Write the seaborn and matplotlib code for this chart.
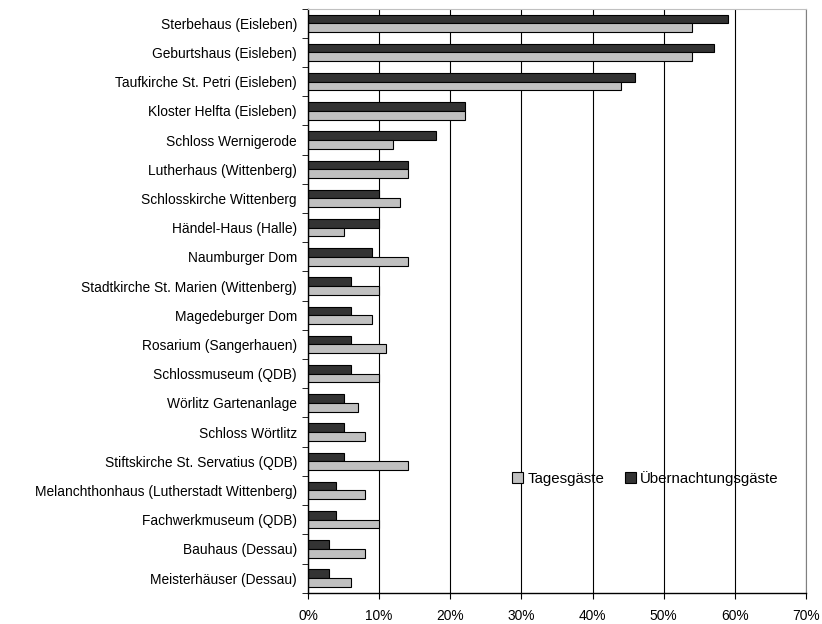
import matplotlib
matplotlib.use('Agg')
import numpy as np
import pandas as pd
import matplotlib.pyplot as plt
import seaborn as sns

# values (percent)
orte = ['Sterbehaus (Eisleben)', 'Geburtshaus (Eisleben)', 'Taufkirche St. Petri (Eisleben)',
        'Kloster Helfta (Eisleben)', 'Schloss Wernigerode', 'Lutherhaus (Wittenberg)',
        'Schlosskirche Wittenberg', 'Händel-Haus (Halle)', 'Naumburger Dom',
        'Stadtkirche St. Marien (Wittenberg)', 'Magedeburger Dom', 'Rosarium (Sangerhauen)',
        'Schlossmuseum (QDB)', 'Wörlitz Gartenanlage', 'Schloss Wörtlitz',
        'Stiftskirche St. Servatius (QDB)', 'Melanchthonhaus (Lutherstadt Wittenberg)',
        'Fachwerkmuseum (QDB)', 'Bauhaus (Dessau)', 'Meisterhäuser (Dessau)']
tagesgaeste = [54, 54, 44, 22, 12, 14, 13, 5, 14, 10, 9, 11, 10, 7, 8, 14, 8, 10, 8, 6]
uebernachtung = [59, 57, 46, 22, 18, 14, 10, 10, 9, 6, 6, 6, 6, 5, 5, 5, 4, 4, 3, 3]
xticks = [0, 10, 20, 30, 40, 50, 60, 70]

df = pd.DataFrame({'Ort': orte, 'Tagesgäste': tagesgaeste, 'Übernachtungsgäste': uebernachtung})
long = df.melt(id_vars='Ort', var_name='Gruppe', value_name='Anteil')

sns.set_style('white')
plt.rcParams['font.family'] = ['Liberation Sans', 'DejaVu Sans']
plt.rcParams['font.size'] = 9.9
plt.rcParams['text.color'] = 'black'
plt.rcParams['xtick.color'] = 'black'
plt.rcParams['ytick.color'] = 'black'

fig, ax = plt.subplots(figsize=(8.22, 6.24), dpi=100)
fig.subplots_adjust(left=308/822, right=806/822, top=1-8.7/624, bottom=1-592.7/624)

sns.barplot(data=long, y='Ort', x='Anteil', hue='Gruppe',
            hue_order=['Übernachtungsgäste', 'Tagesgäste'],
            palette=['#333333', '#c0c0c0'], saturation=1, width=0.6,
            edgecolor='black', linewidth=0.8, orient='h', ax=ax)

ax.set_xlim(0, 70)
ax.set_ylim(len(orte) - 0.5, -0.5)
ax.set_xticks(xticks)
ax.set_xticklabels([f'{v}%' for v in xticks])
ax.set_xlabel('')
ax.set_ylabel('')

ax.xaxis.grid(True, color='black', lw=0.8)
ax.set_axisbelow(True)

for s in ['left', 'bottom']:
    ax.spines[s].set_color('black')
    ax.spines[s].set_linewidth(1)
ax.spines['top'].set_color('#c0c0c0')
ax.spines['right'].set_color('#808080')

ax.set_yticks(np.arange(-0.5, len(orte), 1), minor=True)
ax.tick_params(axis='y', which='major', length=0, pad=8, labelcolor='black')
ax.tick_params(axis='y', which='minor', left=True, length=4, direction='out', color='black')
ax.tick_params(axis='x', bottom=True, length=4, direction='out', color='black', pad=8,
               labelcolor='black')

handles, labels = ax.get_legend_handles_labels()
ax.legend_.remove()
ax.legend([handles[1], handles[0]], [labels[1], labels[0]], ncol=2, frameon=False,
          loc='center', bbox_to_anchor=(0.678, 0.196), fontsize=10.8,
          handlelength=0.72, handleheight=0.72, handletextpad=0.28, columnspacing=1.4)

fig.savefig('out.png', dpi=100)
